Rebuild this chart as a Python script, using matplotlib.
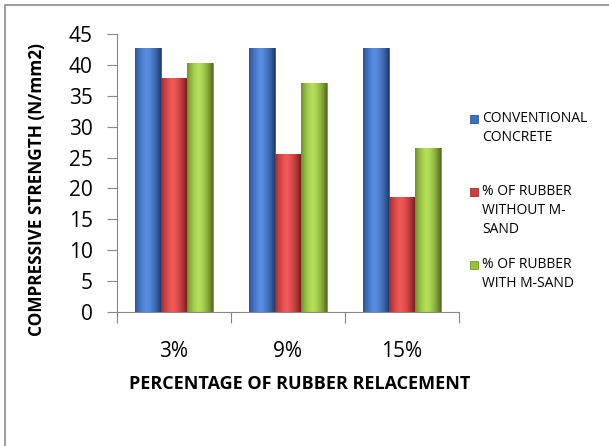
import numpy as np
import matplotlib.pyplot as plt
from matplotlib.patches import Rectangle
from matplotlib.colors import to_rgb

categories = ["3%", "9%", "15%"]
conventional = [42.7, 42.7, 42.7]
rubber_without_msand = [37.9, 25.6, 18.6]
rubber_with_msand = [40.3, 37.0, 26.5]
series_labels = ["CONVENTIONAL\nCONCRETE", "% OF RUBBER\nWITHOUT M-\nSAND", "% OF RUBBER\nWITH M-SAND"]
series_values = [conventional, rubber_without_msand, rubber_with_msand]
colors = ["#3B70C4", "#D43C3C", "#98C23C"]
edge_colors = ["#2B5597", "#A52A2A", "#739A2A"]

plt.rcParams['font.family'] = ['Open Sans', 'DejaVu Sans']

fig = plt.figure(figsize=(6.09, 4.46), dpi=100)
fig.set(facecolor="white")
# outer chart border (only top and left show in the picture)
fig.add_artist(Rectangle((5 / 609, -0.1), 1.2, 1 - 5 / 446 + 0.1, transform=fig.transFigure,
                         fill=False, edgecolor="#8c8c8c", linewidth=1.2))

ax = fig.add_axes([117 / 609, 1 - 312 / 446, 342 / 609, 278 / 446])
x = np.arange(len(categories))
w = 0.228
for i, vals in enumerate(series_values):
    bars = ax.bar(x + (i - 1) * w, vals, w, color=colors[i], edgecolor=edge_colors[i], linewidth=0.6, zorder=2)
    base = np.array(to_rgb(colors[i]))
    t = np.linspace(0, 1, 64)
    shade = 1 - 0.35 * (2 * np.abs(t - 0.45)) ** 2
    img = np.clip(base[None, :] * shade[:, None] + 0.12 * (1 - np.abs(t - 0.45)[:, None] * 2), 0, 1)
    for b in bars:
        x0, y0 = b.get_x(), b.get_y()
        im = ax.imshow(img[None, :, :], extent=[x0, x0 + b.get_width(), y0, y0 + b.get_height()],
                       aspect="auto", zorder=2.5, interpolation="bilinear")
        im.set_clip_path(b)

ax.set_xlim(-0.5, 2.5)
ax.set_ylim(0, 45)
ax.set_yticks(np.arange(0, 46, 5))
ax.set_xticks([-0.5, 0.5, 1.5, 2.5])
ax.set_xticklabels([])
ax.set_xticks(x, minor=True)
ax.set_xticklabels(categories, minor=True)
ax.tick_params(axis="x", which="major", length=8, color="#868686", direction="out")
ax.tick_params(axis="x", which="minor", length=0, pad=21, labelsize=15)
ax.tick_params(axis="y", length=7.5, color="#868686", labelsize=15, pad=10)
for s in ["top", "right"]:
    ax.spines[s].set_visible(False)
for s in ["left", "bottom"]:
    ax.spines[s].set_color("#868686")

fig.text(37 / 609, 1 - 189 / 446, "COMPRESSIVE STRENGTH (N/mm2)", rotation=90,
         ha="center", va="center", fontsize=12.4, fontweight="bold")
fig.text(300 / 609, 1 - 384 / 446, "PERCENTAGE OF RUBBER RELACEMENT",
         ha="center", va="center", fontsize=13, fontweight="bold")

# legend, marker aligned with the first line of each entry
legend_y = [119, 192, 265]
for i, lab in enumerate(series_labels):
    fig.add_artist(Rectangle((470 / 609, 1 - (legend_y[i] + 4) / 446), 8 / 609, 8 / 446,
                             transform=fig.transFigure, facecolor=colors[i], edgecolor=edge_colors[i], linewidth=0.6))
    fig.text(482 / 609, 1 - (legend_y[i] - 8) / 446, lab, ha="left", va="top",
             fontsize=10, linespacing=1.38)

fig.savefig("out.png", dpi=100)
